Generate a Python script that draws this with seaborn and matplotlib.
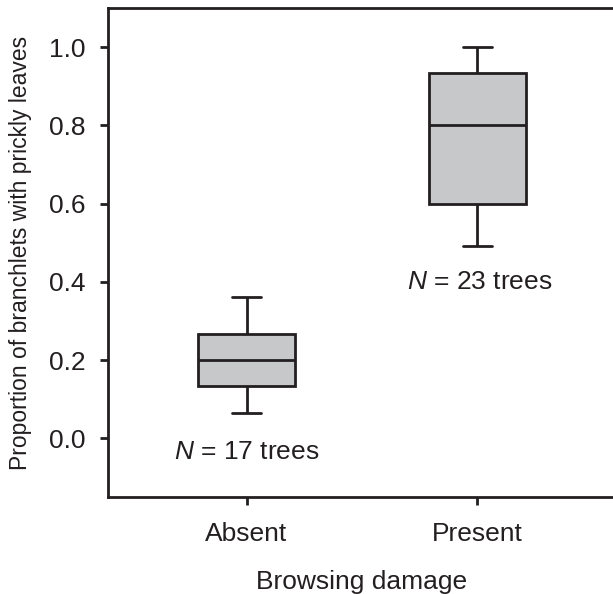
import matplotlib
matplotlib.use("Agg")
import matplotlib.pyplot as plt
import seaborn as sns
import pandas as pd

# five-number summaries (min, q1, median, q3, max)
groups = ["Absent", "Present"]
absent_summary = [0.066, 0.133, 0.20, 0.267, 0.36]
present_summary = [0.492, 0.60, 0.80, 0.934, 1.0]
n_labels = ["17", "23"]
n_label_x = [0.0, 1.01]
n_label_y = [-0.035, 0.40]

sns.set_style("ticks")
plt.rcParams["font.family"] = ["Liberation Sans", "DejaVu Sans"]
plt.rcParams["mathtext.fontset"] = "custom"
plt.rcParams["mathtext.it"] = "Liberation Sans:italic"
plt.rcParams["mathtext.rm"] = "Liberation Sans"

df = pd.DataFrame(
    {
        "damage": [groups[0]] * len(absent_summary) + [groups[1]] * len(present_summary),
        "prop": absent_summary + present_summary,
    }
)

ink = "#231f20"
fig = plt.figure(figsize=(6.13, 5.94), dpi=100)
ax = fig.add_axes([0.1762, 0.1633, 0.8287, 0.8232])

lw = 2.0
sns.boxplot(
    data=df,
    x="damage",
    y="prop",
    order=groups,
    width=0.42,
    color="#c7c8ca",
    linecolor=ink,
    linewidth=lw,
    whis=1.5,
    capwidths=0.125,
    ax=ax,
)
for patch in ax.patches:
    patch.set_facecolor("#c7c8ca")
    patch.set_edgecolor(ink)

for n, xv, yv in zip(n_labels, n_label_x, n_label_y):
    ax.text(xv, yv, "$N$ = %s trees" % n, ha="center", va="center",
            fontsize=19, color=ink)

ax.set_xlim(-0.6, 1.6)
ax.set_ylim(-0.15, 1.1)
ax.set_yticks([0.0, 0.2, 0.4, 0.6, 0.8, 1.0])
ax.set_yticklabels(["0.0", "0.2", "0.4", "0.6", "0.8", "1.0"])

for side in ["left", "bottom", "top", "right"]:
    ax.spines[side].set_linewidth(lw)
    ax.spines[side].set_color(ink)
ax.tick_params(axis="both", width=lw, length=6, color=ink, labelsize=19,
               labelcolor=ink)
ax.tick_params(axis="y", pad=10)
ax.tick_params(axis="x", pad=12)

ax.set_xlabel("Browsing damage", fontsize=19, color=ink, labelpad=17)
ax.set_ylabel("Proportion of branchlets with prickly leaves", fontsize=16.5,
              color=ink, labelpad=12)

fig.savefig("out.png", dpi=100)
